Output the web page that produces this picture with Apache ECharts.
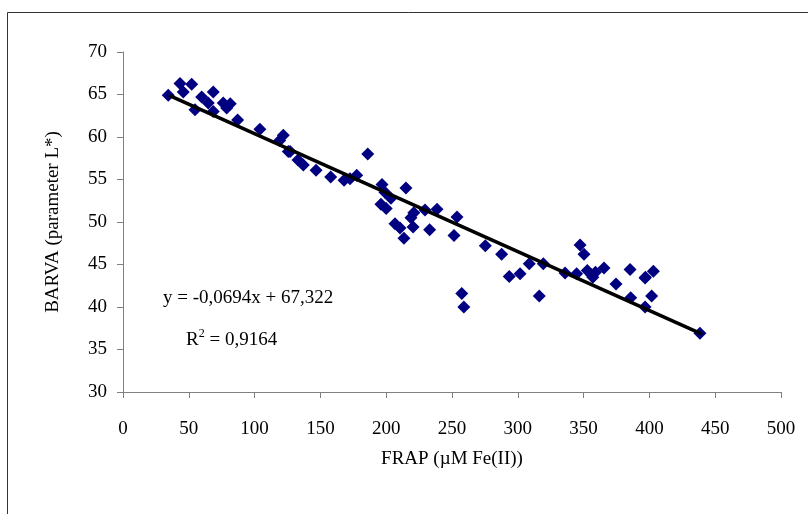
<!DOCTYPE html>
<html>
<head>
<meta charset="utf-8">
<script src="https://cdn.jsdelivr.net/npm/echarts@6/dist/echarts.min.js"></script>
<style>html,body{margin:0;padding:0;background:#fff}#c{width:808px;height:514px}</style>
</head>
<body>
<div id="c"></div>
<script>
const frapValues = [34.4,43.3,45.8,52.2,54.7,59.8,64.8,68.6,68.6,76.2,78.8,81.5,87.1,104,119,121.8,125.6,127,133,137,146.7,157.8,168,172.5,177.6,186,
  196.8,199,203.6,196,200,215,206.7,210.5,213.5,218.8,221,220.4,229.5,238.6,233,253.8,251.5,257.4,259,275.3,287.7,293.5,301.7,308.7,319.4,316.3,
  335.9,344.7,347.3,350.3,352.8,356,359,357,365.5,374.6,385.3,385.8,396.7,397,396.7,403,401.7,438.4];
const barvaValues = [64.9,66.3,65.3,66.2,63.2,64.7,64.0,65.3,63.0,64.0,63.4,63.9,62.0,60.9,59.6,60.2,58.3,58.3,57.3,56.7,56.1,55.3,54.9,55.1,55.5,58.0,
  54.4,53.5,52.8,52.1,51.6,54.0,49.8,49.3,48.1,50.5,51.1,49.4,51.4,51.5,49.1,50.6,48.4,41.6,40.0,47.2,46.2,43.6,43.9,45.1,45.1,41.3,
  44.0,43.9,47.3,46.2,44.3,43.8,44.1,43.5,44.6,42.7,44.4,41.1,43.4,43.5,40.0,44.2,41.3,36.9];
const trendX = [35, 440];
const trendY = [64.9, 36.8];
const xTicks = {min: 0, max: 500, interval: 50};
const yTicks = {min: 30, max: 70, interval: 5};
const xName = 'FRAP (µM Fe(II))';
const yName = 'BARVA (parameter L*)';
const eqText = 'y = -0,0694x + 67,322';
const r2Value = '0,9164';

const points = frapValues.map((x, i) => [x, barvaValues[i]]);
const trend = trendX.map((x, i) => [x, trendY[i]]);
const FONT = '"Liberation Serif", "Times New Roman", serif';

const chart = echarts.init(document.getElementById('c'), null, {renderer: 'canvas'});
chart.setOption({
  animation: false,
  backgroundColor: '#fff',
  grid: {left: 123, right: 27, top: 52, bottom: 122},
  xAxis: {
    type: 'value', min: xTicks.min, max: xTicks.max, interval: xTicks.interval,
    name: xName, nameLocation: 'middle', nameGap: 58,
    nameTextStyle: {fontFamily: FONT, fontSize: 19, color: '#000'},
    axisLine: {show: true, onZero: false, lineStyle: {color: '#808080', width: 1}},
    axisTick: {show: true, inside: false, length: 6, lineStyle: {color: '#808080'}},
    axisLabel: {fontFamily: FONT, fontSize: 19, color: '#000', margin: 28},
    splitLine: {show: false}
  },
  yAxis: {
    type: 'value', min: yTicks.min, max: yTicks.max, interval: yTicks.interval,
    name: yName, nameLocation: 'middle', nameGap: 60, nameRotate: 90,
    nameTextStyle: {fontFamily: FONT, fontSize: 19, color: '#000'},
    axisLine: {show: true, onZero: false, lineStyle: {color: '#808080', width: 1}},
    axisTick: {show: true, inside: false, length: 6, lineStyle: {color: '#808080'}},
    axisLabel: {fontFamily: FONT, fontSize: 19, color: '#000', margin: 16},
    splitLine: {show: false}
  },
  series: [
    {
      type: 'line', data: trend, symbol: 'none', silent: true, z: 3,
      lineStyle: {color: '#000', width: 3.5}
    },
    {
      type: 'scatter', data: points, symbol: 'diamond', symbolSize: 13, z: 2,
      itemStyle: {color: '#000080', opacity: 1}
    }
  ],
  graphic: [
    {type: 'rect', left: 5, top: 10, shape: {width: 900, height: 600}, style: {fill: 'none', stroke: '#333', lineWidth: 1}, silent: true, z: -1},
    {type: 'text', left: 163, top: 289, style: {text: eqText, font: '19px ' + FONT, fill: '#000'}},
    {type: 'text', left: 186, top: 328, style: {
      text: '{r|R}{s|2}{r| = ' + r2Value + '}',
      rich: {
        r: {fontFamily: FONT, fontSize: 19, color: '#000'},
        s: {fontFamily: FONT, fontSize: 12, color: '#000', verticalAlign: 'top', padding: [0, 0, 12, 0]}
      }
    }}
  ]
});
</script>
</body>
</html>
